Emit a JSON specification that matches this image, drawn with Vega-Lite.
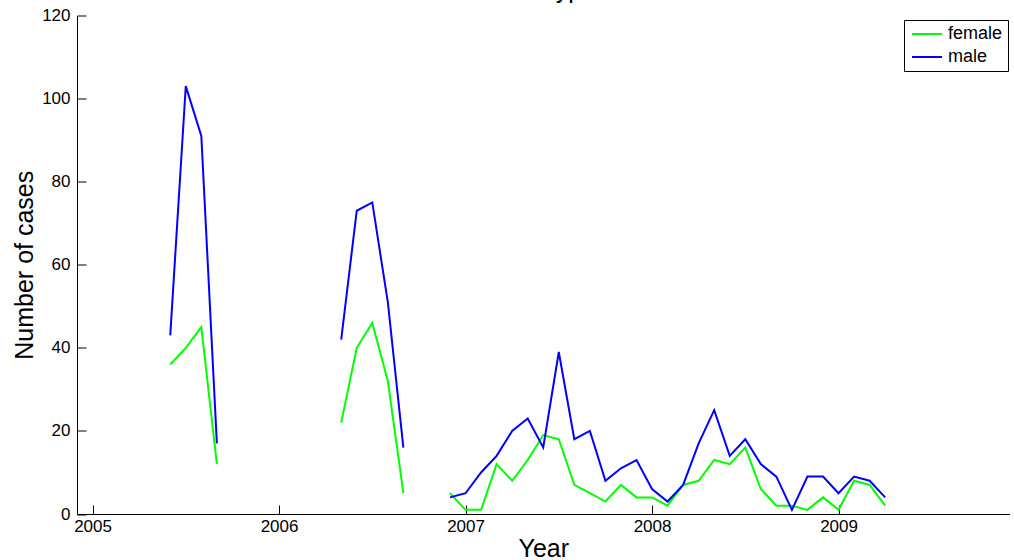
{
  "$schema": "https://vega.github.io/schema/vega-lite/v6.json",
  "autosize": "none",
  "width": 932.5,
  "height": 498.5,
  "padding": {"left": 77, "top": 15.5, "right": 4.5, "bottom": 46},
  "background": "white",
  "title": {
    "text": "Salmonella Typhimurium",
    "font": "Liberation Sans",
    "fontSize": 25,
    "fontWeight": "normal",
    "color": "black",
    "anchor": "middle",
    "baseline": "alphabetic",
    "offset": 2,
    "dy": 18,
    "dx": 5
  },
  "config": {
    "view": {"stroke": null},
    "axis": {
      "grid": false,
      "domainColor": "black",
      "tickColor": "black",
      "labelColor": "black",
      "titleColor": "black",
      "labelFont": "Liberation Sans",
      "titleFont": "Liberation Sans",
      "titleFontWeight": "normal",
      "domainWidth": 1,
      "tickWidth": 1
    }
  },
  "data": {
    "values": [
      {"t": 2005.4167, "p": 1, "female": 36, "male": 43},
      {"t": 2005.5, "p": 1, "female": 40, "male": 103},
      {"t": 2005.5833, "p": 1, "female": 45, "male": 91},
      {"t": 2005.6667, "p": 1, "female": 12, "male": 17},
      {"t": 2006.3333, "p": 2, "female": 22, "male": 42},
      {"t": 2006.4167, "p": 2, "female": 40, "male": 73},
      {"t": 2006.5, "p": 2, "female": 46, "male": 75},
      {"t": 2006.5833, "p": 2, "female": 32, "male": 51},
      {"t": 2006.6667, "p": 2, "female": 5, "male": 16},
      {"t": 2006.9167, "p": 3, "female": 5, "male": 4},
      {"t": 2007.0, "p": 3, "female": 1, "male": 5},
      {"t": 2007.0833, "p": 3, "female": 1, "male": 10},
      {"t": 2007.1667, "p": 3, "female": 12, "male": 14},
      {"t": 2007.25, "p": 3, "female": 8, "male": 20},
      {"t": 2007.3333, "p": 3, "female": 13, "male": 23},
      {"t": 2007.4167, "p": 3, "female": 19, "male": 16},
      {"t": 2007.5, "p": 3, "female": 18, "male": 39},
      {"t": 2007.5833, "p": 3, "female": 7, "male": 18},
      {"t": 2007.6667, "p": 3, "female": 5, "male": 20},
      {"t": 2007.75, "p": 3, "female": 3, "male": 8},
      {"t": 2007.8333, "p": 3, "female": 7, "male": 11},
      {"t": 2007.9167, "p": 3, "female": 4, "male": 13},
      {"t": 2008.0, "p": 3, "female": 4, "male": 6},
      {"t": 2008.0833, "p": 3, "female": 2, "male": 3},
      {"t": 2008.1667, "p": 3, "female": 7, "male": 7},
      {"t": 2008.25, "p": 3, "female": 8, "male": 17},
      {"t": 2008.3333, "p": 3, "female": 13, "male": 25},
      {"t": 2008.4167, "p": 3, "female": 12, "male": 14},
      {"t": 2008.5, "p": 3, "female": 16, "male": 18},
      {"t": 2008.5833, "p": 3, "female": 6, "male": 12},
      {"t": 2008.6667, "p": 3, "female": 2, "male": 9},
      {"t": 2008.75, "p": 3, "female": 2, "male": 1},
      {"t": 2008.8333, "p": 3, "female": 1, "male": 9},
      {"t": 2008.9167, "p": 3, "female": 4, "male": 9},
      {"t": 2009.0, "p": 3, "female": 1, "male": 5},
      {"t": 2009.0833, "p": 3, "female": 8, "male": 9},
      {"t": 2009.1667, "p": 3, "female": 7, "male": 8},
      {"t": 2009.25, "p": 3, "female": 2, "male": 4}
    ]
  },
  "transform": [{"fold": ["female", "male"], "as": ["sex", "n"]}],
  "mark": {"type": "line", "strokeWidth": 2},
  "encoding": {
    "x": {
      "field": "t",
      "type": "quantitative",
      "scale": {"domain": [2004.9167, 2009.9167], "nice": false, "zero": false},
      "axis": {
        "values": [2005, 2006, 2007, 2008, 2009],
        "format": "d",
        "tickSize": -9,
        "labelPadding": 13,
        "labelFontSize": 17,
        "title": "Year",
        "titleFontSize": 25,
        "titlePadding": 2
      }
    },
    "y": {
      "field": "n",
      "type": "quantitative",
      "scale": {"domain": [0, 120], "nice": false},
      "axis": {
        "values": [0, 20, 40, 60, 80, 100, 120],
        "tickSize": -9,
        "labelPadding": 16,
        "labelFontSize": 17,
        "title": "Number of cases",
        "titleFontSize": 25,
        "titlePadding": 4
      }
    },
    "color": {
      "field": "sex",
      "type": "nominal",
      "scale": {"domain": ["female", "male"], "range": ["#00ff00", "#0000ff"]},
      "legend": {
        "title": null,
        "orient": "none",
        "legendX": 827,
        "legendY": 4.5,
        "fillColor": "white",
        "strokeColor": "black",
        "padding": 5,
        "cornerRadius": 0,
        "symbolType": "M-1,0H4",
        "symbolSize": 144,
        "symbolStrokeWidth": 2,
        "labelFont": "Liberation Sans",
        "labelFontSize": 18,
        "labelColor": "black",
        "labelOffset": 21,
        "rowPadding": 5
      }
    },
    "detail": {"field": "p", "type": "nominal"}
  }
}
